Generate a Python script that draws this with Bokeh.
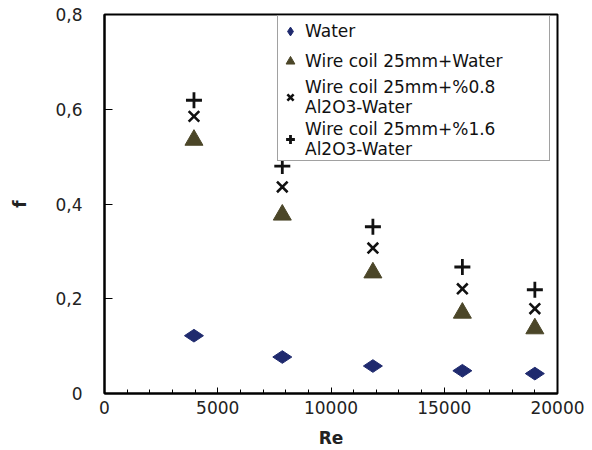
import math
from bokeh.plotting import figure
from bokeh.models import (ColumnDataSource, Legend, LegendItem, FixedTicker,
                          CustomJSTickFormatter, Range1d)
from bokeh.embed import file_html
from bokeh.resources import INLINE

# ---- data ----
re_vals = [3950, 7850, 11850, 15800, 19000]
f_water = [0.122, 0.077, 0.058, 0.048, 0.042]
f_coil = [0.535, 0.377, 0.255, 0.170, 0.137]
f_coil_08 = [0.585, 0.436, 0.307, 0.221, 0.179]
f_coil_16 = [0.619, 0.480, 0.352, 0.267, 0.219]
x_ticks = [0, 5000, 10000, 15000, 20000]
y_ticks = [0, 0.2, 0.4, 0.6, 0.8]
labels = ["Water", "Wire coil 25mm+Water",
          "Wire coil 25mm+%0.8\nAl2O3-Water",
          "Wire coil 25mm+%1.6\nAl2O3-Water"]

FONT = "DejaVu Sans"

p = figure(width=592, height=450, output_backend="svg", toolbar_location=None,
           x_range=Range1d(0, 20000), y_range=Range1d(0, 0.8),
           min_border_left=104, min_border_right=35, min_border_top=14,
           min_border_bottom=56)
p.background_fill_color = "white"
p.border_fill_color = "white"
p.outline_line_color = "black"
p.outline_line_width = 2
p.xgrid.visible = False
p.ygrid.visible = False

src = ColumnDataSource(dict(x=re_vals, w=f_water, c=f_coil, c08=f_coil_08, c16=f_coil_16))

r_w = p.scatter("x", "w", source=src, marker="diamond", size=19, angle=math.pi / 2,
                fill_color="#1f2a6e", line_color="#1f2a6e")
r_c = p.scatter("x", "c", source=src, marker="triangle", size=18,
                fill_color="#4b4628", line_color="#4b4628")
r_x = p.scatter("x", "c08", source=src, marker="x", size=15,
                line_color="#111111", line_width=2.6)
r_p = p.scatter("x", "c16", source=src, marker="cross", size=16,
                line_color="#111111", line_width=2.8)

# axes
for ax in (p.xaxis[0], p.yaxis[0]):
    ax.axis_line_width = 2
    ax.axis_line_color = "black"
    ax.major_tick_line_color = "black"
    ax.major_tick_line_width = 1
    ax.major_label_text_font = FONT
    ax.major_label_text_font_size = "17px"
    ax.major_label_text_color = "#222222"
    ax.axis_label_text_font = FONT
    ax.axis_label_text_font_style = "bold"
    ax.axis_label_text_font_size = "17px"
    ax.axis_label_text_color = "#222222"

p.xaxis.ticker = FixedTicker(ticks=x_ticks,
                             minor_ticks=list(range(0, 20001, 1000)))
p.xaxis.major_tick_in = 6
p.xaxis.major_tick_out = 0
p.xaxis.minor_tick_in = 4
p.xaxis.minor_tick_out = 0
p.xaxis.minor_tick_line_color = "black"
p.xaxis.axis_label = "Re"
p.xaxis.major_label_standoff = 7
p.xaxis.axis_label_standoff = 11

p.yaxis.ticker = FixedTicker(ticks=y_ticks, minor_ticks=[])
p.yaxis.formatter = CustomJSTickFormatter(
    code="return tick == 0 ? '0' : tick.toFixed(1).replace('.', ',');")
p.yaxis.major_tick_in = 8
p.yaxis.major_tick_out = 0
p.yaxis.minor_tick_line_color = None
p.yaxis.axis_label = "f"
p.yaxis.major_label_standoff = 22
p.yaxis.axis_label_standoff = 22

legend = Legend(items=[
    LegendItem(label=labels[0], renderers=[r_w]),
    LegendItem(label=labels[1], renderers=[r_c]),
    LegendItem(label=labels[2], renderers=[r_x]),
    LegendItem(label=labels[3], renderers=[r_p]),
], location=(173, 232))
legend.label_text_font = FONT
legend.label_text_font_size = "17px"
legend.label_text_color = "#111111"
legend.label_text_line_height = 1.15
legend.border_line_color = "#444444"
legend.border_line_width = 1.5
legend.background_fill_alpha = 1
legend.padding = 1
legend.spacing = 2
legend.glyph_width = 22
legend.glyph_height = 26
legend.label_standoff = 4
legend.label_height = 28
legend.label_width = 243
legend.margin = 0
p.add_layout(legend, "center")

open("out.html", "w").write(file_html(p, INLINE))
